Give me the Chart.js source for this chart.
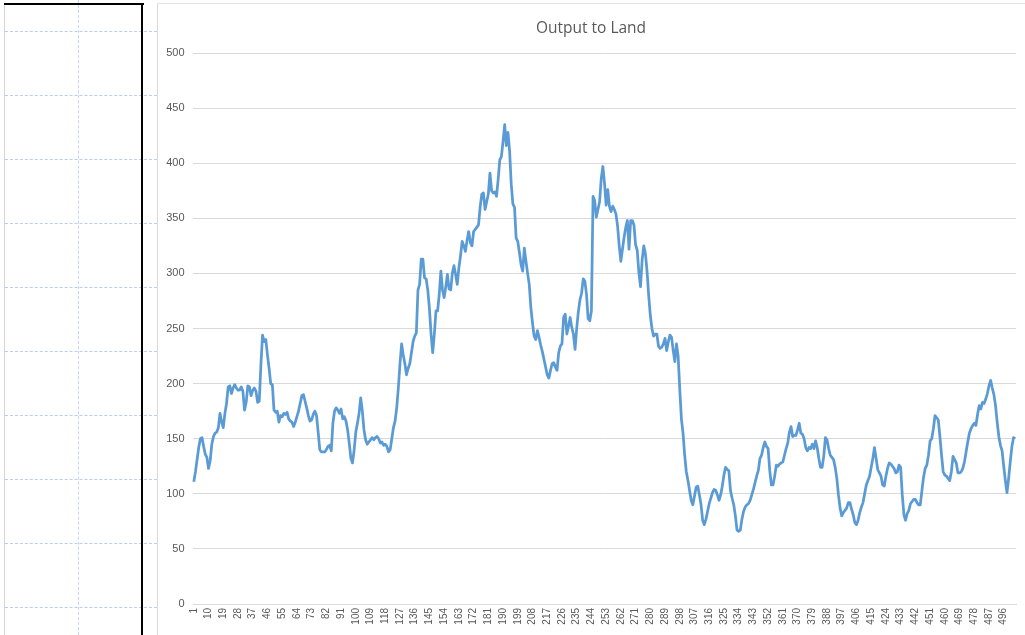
<!DOCTYPE html>
<html>
<head>
<meta charset="utf-8">
<script src="https://cdn.jsdelivr.net/npm/chart.js@4.4.1/dist/chart.umd.min.js"></script>
<style>
  html, body { margin: 0; padding: 0; background: #ffffff; }
  body { width: 1025px; height: 635px; position: relative; overflow: hidden; }
  .hd { position: absolute; left: 5px; width: 152px; height: 0; border-top: 1px dashed #bccbf0; }
  .vd { position: absolute; top: 0; height: 635px; width: 0; border-left: 1px dashed #c8d3f3; }
  #sheetLeft { position: absolute; left: 4px; top: 4px; width: 0; height: 631px; border-left: 1px solid #d4d4d4; }
  #blackTop { position: absolute; left: 4px; top: 3px; width: 140px; height: 2px; background: #000; }
  #blackV { position: absolute; left: 141px; top: 3px; width: 2px; height: 632px; background: #000; }
  #chartBorder { position: absolute; left: 157px; top: 4px; width: 0; height: 631px; border-left: 1px solid #d9d9d9; }
  #chartTop { position: absolute; left: 157px; top: 3px; width: 868px; height: 0; border-top: 1px solid #e4e4e4; }
  #wrap { position: absolute; left: 158px; top: 4px; width: 867px; height: 631px; background: #fff; }
</style>
</head>
<body>
<div class="vd" style="left:78px"></div>
<div class="hd" style="top:31px"></div>
<div class="hd" style="top:95px"></div>
<div class="hd" style="top:159px"></div>
<div class="hd" style="top:223px"></div>
<div class="hd" style="top:287px"></div>
<div class="hd" style="top:351px"></div>
<div class="hd" style="top:415px"></div>
<div class="hd" style="top:479px"></div>
<div class="hd" style="top:543px"></div>
<div class="hd" style="top:607px"></div>
<div id="sheetLeft"></div>
<div id="blackTop"></div>
<div id="blackV"></div>
<div id="chartTop"></div>
<div id="wrap"><canvas id="c" width="867" height="631"></canvas></div>
<div id="chartBorder"></div>
<script>
const chartTitle = "Output to Land";
const seriesName = "Output to Land";

const outputToLand = [
111,120,131,142,150,151,143,136,133,123,
130,145,152,155,156,160,173,165,160,173,
182,197,198,191,196,199,196,194,194,197,
193,176,183,198,197,189,194,196,193,183,
184,217,244,238,240,226,214,200,199,176,
174,175,165,171,170,173,172,174,168,166,
165,161,165,170,175,182,189,190,184,178,
171,166,167,172,175,171,156,140,138,138,
138,140,143,144,139,164,175,178,176,173,
177,168,170,166,158,146,132,128,140,156,
164,173,187,175,158,149,145,147,149,151,
149,151,152,150,146,147,144,145,143,138,
140,150,160,166,178,196,218,236,226,218,
208,214,218,228,238,243,246,285,290,313,
313,296,295,285,268,245,228,245,266,266,
281,302,285,278,288,299,286,285,300,307,
299,290,305,316,329,325,320,330,338,328,
325,338,340,342,344,360,372,373,358,365,
372,391,375,373,374,370,385,403,406,420,
435,416,428,411,381,363,360,332,329,319,
308,302,323,311,300,290,269,255,243,240,
248,242,235,229,222,215,208,205,212,218,
219,215,212,228,234,236,260,263,245,252,
260,251,245,231,250,265,276,282,295,293,
281,259,257,266,370,366,351,358,365,386,
397,382,362,376,361,356,361,358,354,343,
325,311,322,333,342,348,322,348,348,344,
326,321,301,288,312,325,318,302,280,262,
250,243,245,245,234,232,233,236,241,230,
238,244,242,230,220,236,225,195,168,155,
135,120,112,103,94,90,98,106,107,99,
90,76,72,77,84,91,96,101,104,103,
99,94,99,107,117,124,122,121,103,96,
90,80,67,66,67,77,84,88,90,91,
94,99,104,110,116,121,132,135,142,147,
143,141,121,108,108,116,126,125,127,128,
129,135,141,146,156,161,152,153,153,158,
164,155,154,150,142,139,142,141,145,141,
148,142,132,124,124,134,151,149,141,135,
133,131,124,114,99,87,80,83,85,87,
92,92,86,81,74,72,76,83,88,92,
100,108,112,116,124,132,142,132,122,119,
116,108,107,116,123,128,127,125,123,119,
120,126,124,99,81,76,82,85,91,93,
95,95,92,90,90,103,115,123,126,135,
148,150,159,171,169,167,152,135,120,117,
116,114,112,120,134,131,128,119,119,120,
123,129,138,147,155,159,162,164,162,172,
180,177,183,182,186,191,198,203,196,190,
180,165,152,144,139,125,112,101,114,129,
143,151,150
];

// Category labels 1..N (row numbers), every 9th shown as tick label
const categories = outputToLand.map((_, i) => String(i + 1));
const xLabelStep = 9;
const yMin = 0, yMax = 500, yStep = 50;

const textColor = "#595959";
const gridColor = "#d9d9d9";
const lineColor = "#5b9bd5";

new Chart(document.getElementById("c"), {
  type: "line",
  data: {
    labels: categories,
    datasets: [{
      label: seriesName,
      data: outputToLand,
      borderColor: lineColor,
      borderWidth: 2.75,
      borderJoinStyle: "round",
      pointRadius: 0,
      pointHoverRadius: 0,
      tension: 0,
      fill: false
    }]
  },
  options: {
    responsive: false,
    animation: false,
    events: [],
    layout: { padding: { left: 8, right: 9, top: 0, bottom: 0 } },
    plugins: {
      legend: { display: false },
      tooltip: { enabled: false },
      title: {
        display: true,
        text: chartTitle,
        color: textColor,
        font: { family: "'Open Sans', 'Liberation Sans', sans-serif", size: 15.5, weight: "normal", lineHeight: 1.2 },
        padding: { top: 15, bottom: 15.4 }
      }
    },
    scales: {
      x: {
        type: "category",
        offset: true,
        grid: { display: false, drawTicks: false },
        border: { display: true, color: gridColor, width: 1 },
        ticks: {
          autoSkip: false,
          minRotation: 90,
          maxRotation: 90,
          padding: 4,
          color: textColor,
          font: { family: "'Liberation Sans', Arial, sans-serif", size: 10 },
          callback: function(val, idx) {
            return idx % xLabelStep === 0 ? categories[idx] : null;
          }
        },
        afterFit: function(s) { s.height = 31; }
      },
      y: {
        min: yMin,
        max: yMax,
        grid: { color: gridColor, lineWidth: 1, drawTicks: false },
        border: { display: false },
        ticks: {
          stepSize: yStep,
          padding: 8.5,
          color: textColor,
          font: { family: "'Liberation Sans', Arial, sans-serif", size: 11 }
        },
        afterFit: function(s) { s.width = 27; }
      }
    }
  }
});
</script>
</body>
</html>
